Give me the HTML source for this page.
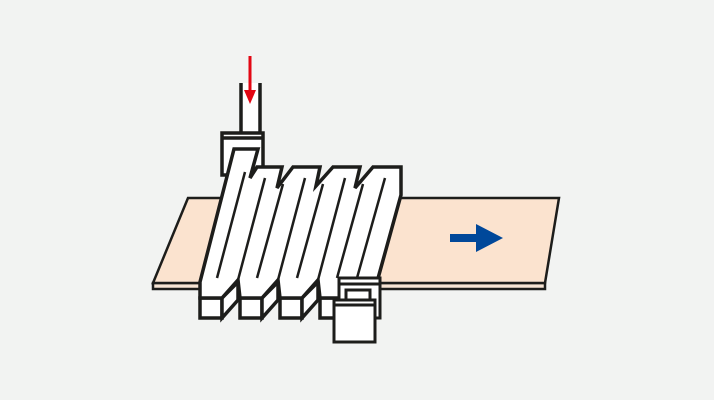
<!DOCTYPE html>
<html><head><style>html,body{margin:0;padding:0;background:#f2f3f2;}svg{display:block}</style></head>
<body>
<svg width="714" height="400" viewBox="0 0 714 400" xmlns="http://www.w3.org/2000/svg">
<rect width="714" height="400" fill="#f2f3f2"/>
<g stroke="#1d1d1b" stroke-width="2.5" stroke-linejoin="miter">
<polygon points="153,283 545,283 545,289 153,289" fill="#f7e4d4"/>
<polygon points="188,198 559,198 545,283 153,283" fill="#fbe3cf"/>
</g>
<polygon points="450,234 476,234 476,224 503,238 476,252 476,242 450,242" fill="#00489a"/>
<g stroke="#1d1d1b" stroke-width="3.5" fill="#fff" stroke-linejoin="miter">
<rect x="241" y="83" width="19" height="52" stroke="none"/>
<path d="M241,83 L241,135 M260,83 L260,135" fill="none"/>
<rect x="222" y="133" width="41" height="42"/>
<line x1="222" y1="138" x2="263" y2="138"/>
<rect x="200" y="298" width="22" height="20"/>
<rect x="240" y="298" width="22" height="20"/>
<rect x="280" y="298" width="22" height="20"/>
<rect x="320" y="298" width="20" height="20"/>
<polygon points="222,318 222,298 238,282 238,300"/>
<polygon points="262,318 262,298 278,282 278,300"/>
<polygon points="302,318 302,298 318,282 318,300"/>
<path d="M200,282 L200,298 L222,298 L238,280 L240,298 L262,298 L278,280 L280,298 L302,298 L318,280 L320,298 L340,298 L377,282 L401,195 L401,167 L373,167 L355,188 L360,167 L333,167 L316,186 L320,167 L293,167 L277,188 L282,167 L257,167 L250,178 L258,149 L234,149 Z"/>
</g>
<g stroke="#1d1d1b" stroke-width="2.5" fill="none">
<line x1="217" y1="278" x2="245" y2="172"/>
<line x1="238" y1="280" x2="265" y2="178"/>
<line x1="257" y1="278" x2="283" y2="184"/>
<line x1="278" y1="280" x2="305" y2="178"/>
<line x1="297" y1="278" x2="323" y2="184"/>
<line x1="318" y1="280" x2="345" y2="178"/>
<line x1="337" y1="278" x2="363" y2="184"/>
<line x1="357" y1="278" x2="385" y2="178"/>
<line x1="377" y1="282" x2="401" y2="195"/>
</g>
<g stroke="#1d1d1b" stroke-width="3" fill="#fff">
<rect x="339" y="278" width="41" height="40"/>
<line x1="339" y1="284" x2="380" y2="284"/>
<rect x="346" y="290" width="24" height="12"/>
<rect x="334" y="300" width="41" height="42"/>
<line x1="334" y1="305" x2="375" y2="305"/>
</g>
<g fill="#e30613">
<rect x="248.5" y="56" width="3" height="36"/>
<polygon points="244,90 256,90 250,104"/>
</g>
</svg>
</body></html>
